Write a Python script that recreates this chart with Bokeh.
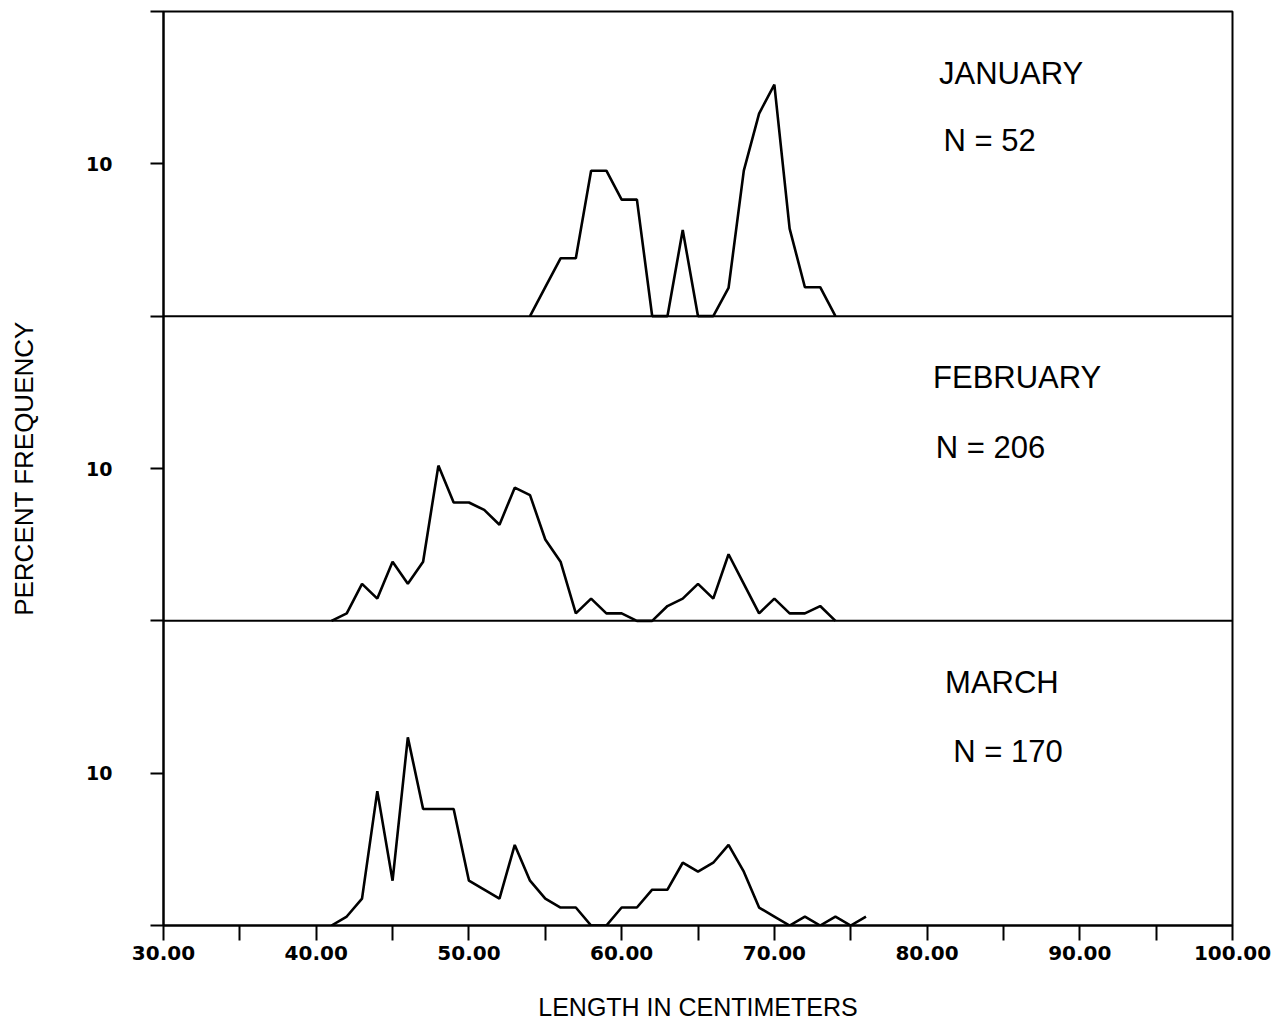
from bokeh.plotting import figure
from bokeh.models import Range1d, FixedTicker, Span, Label
from bokeh.embed import file_html
from bokeh.resources import INLINE

# ---------------- data ----------------
months = ["JANUARY", "FEBRUARY", "MARCH"]
sample_sizes = ["N = 52", "N = 206", "N = 170"]

jan_len = [54, 55, 56, 57, 58, 59, 60, 61, 62, 63, 64, 65, 66, 67, 68, 69, 70, 71, 72, 73, 74]
jan_pct = [0.0, 1.9, 3.8, 3.8, 9.55, 9.55, 7.65, 7.65, 0.0, 0.0, 5.65, 0.0, 0.0, 1.85,
           9.55, 13.3, 15.2, 5.75, 1.9, 1.9, 0.0]

feb_len = [41, 42, 43, 44, 45, 46, 47, 48, 49, 50, 51, 52, 53, 54, 55, 56, 57, 58, 59, 60,
           61, 62, 63, 64, 65, 66, 67, 68, 69, 70, 71, 72, 73, 74]
feb_pct = [0.0, 0.49, 2.43, 1.46, 3.88, 2.43, 3.88, 10.19, 7.77, 7.77, 7.28, 6.31, 8.74, 8.25,
           5.34, 3.88, 0.49, 1.46, 0.49, 0.49, 0.0, 0.0, 0.97, 1.46, 2.43, 1.46, 4.37, 2.43,
           0.49, 1.46, 0.49, 0.49, 0.97, 0.0]

mar_len = [41, 42, 43, 44, 45, 46, 47, 48, 49, 50, 51, 52, 53, 54, 55, 56, 57, 58, 59, 60,
           61, 62, 63, 64, 65, 66, 67, 68, 69, 70, 71, 72, 73, 74, 75, 76]
mar_pct = [0.0, 0.59, 1.76, 8.82, 2.94, 12.35, 7.65, 7.65, 7.65, 2.94, 2.35, 1.76, 5.29, 2.94,
           1.76, 1.18, 1.18, 0.0, 0.0, 1.18, 1.18, 2.35, 2.35, 4.12, 3.53, 4.12, 5.29, 3.53,
           1.18, 0.59, 0.0, 0.59, 0.0, 0.59, 0.0, 0.59]

x_ticks = [30, 35, 40, 45, 50, 55, 60, 65, 70, 75, 80, 85, 90, 95, 100]
x_tick_labels = {30: "30.00", 40: "40.00", 50: "50.00", 60: "60.00",
                 70: "70.00", 80: "80.00", 90: "90.00", 100: "100.00"}
y_ticks = [0, 10, 20, 30, 40, 50, 60]
y_tick_labels = {10: "10", 30: "10", 50: "10"}

# ---------------- figure ----------------
p = figure(width=1283, height=1025, output_backend="svg", toolbar_location=None,
           x_range=Range1d(30, 100), y_range=Range1d(0, 60),
           min_border_left=163, min_border_right=51, min_border_top=11, min_border_bottom=100)
p.extra_y_ranges = {"jan": Range1d(-40, 20), "feb": Range1d(-20, 40), "mar": Range1d(0, 60)}

p.grid.visible = False
p.outline_line_color = "black"
p.outline_line_width = 2
p.background_fill_color = "white"
p.border_fill_color = "white"

# x axis
p.xaxis.ticker = FixedTicker(ticks=x_ticks)
p.xaxis.major_label_overrides = {t: x_tick_labels.get(t, "") for t in x_ticks}
p.xaxis.major_tick_out = 15
p.xaxis.major_tick_in = 0
p.xaxis.minor_tick_out = 0
p.xaxis.minor_tick_in = 0
p.xaxis.axis_line_width = 2
p.xaxis.major_tick_line_width = 2
p.xaxis.major_label_standoff = 5
p.xaxis.major_label_text_font = "DejaVu Sans"
p.xaxis.major_label_text_font_style = "bold"
p.xaxis.major_label_text_font_size = "20px"
p.xaxis.major_label_text_color = "black"
p.xaxis.axis_label = "LENGTH IN CENTIMETERS"
p.xaxis.axis_label_text_font = "Liberation Sans"
p.xaxis.axis_label_text_font_style = "normal"
p.xaxis.axis_label_text_font_size = "25px"
p.xaxis.axis_label_text_color = "black"
p.xaxis.axis_label_standoff = 30

# y axis
p.yaxis.ticker = FixedTicker(ticks=y_ticks)
p.yaxis.major_label_overrides = {t: y_tick_labels.get(t, "") for t in y_ticks}
p.yaxis.major_tick_out = 13
p.yaxis.major_tick_in = 0
p.yaxis.minor_tick_out = 0
p.yaxis.minor_tick_in = 0
p.yaxis.axis_line_width = 2
p.yaxis.major_tick_line_width = 2
p.yaxis.major_label_standoff = 38
p.yaxis.major_label_text_font = "DejaVu Sans"
p.yaxis.major_label_text_font_style = "bold"
p.yaxis.major_label_text_font_size = "19px"
p.yaxis.major_label_text_color = "black"
p.yaxis.axis_label = "PERCENT FREQUENCY"
p.yaxis.axis_label_text_font = "Liberation Sans"
p.yaxis.axis_label_text_font_style = "normal"
p.yaxis.axis_label_text_font_size = "26px"
p.yaxis.axis_label_text_color = "black"
p.yaxis.axis_label_standoff = 44

# panel baselines
for rn in ["jan", "feb"]:
    p.add_layout(Span(location=0, dimension="width", y_range_name=rn,
                      line_color="black", line_width=2))

# data lines
p.line(jan_len, jan_pct, y_range_name="jan", line_color="black", line_width=2.6)
p.line(feb_len, feb_pct, y_range_name="feb", line_color="black", line_width=2.6)
p.line(mar_len, mar_pct, y_range_name="mar", line_color="black", line_width=2.6)

# panel labels
label_style = dict(text_font="Liberation Sans", text_font_size="31px", text_color="black",
                   text_align="center", text_baseline="middle")
panel_ranges = ["jan", "feb", "mar"]
name_pos = [(85.5, 15.95), (85.9, 15.95), (84.9, 15.95)]
n_pos = [(84.1, 11.55), (84.15, 11.4), (85.3, 11.45)]
for i, rn in enumerate(panel_ranges):
    p.add_layout(Label(x=name_pos[i][0], y=name_pos[i][1], y_range_name=rn,
                       text=months[i], **label_style))
    p.add_layout(Label(x=n_pos[i][0], y=n_pos[i][1], y_range_name=rn,
                       text=sample_sizes[i], **label_style))

open("out.html", "w").write(file_html(p, INLINE))
